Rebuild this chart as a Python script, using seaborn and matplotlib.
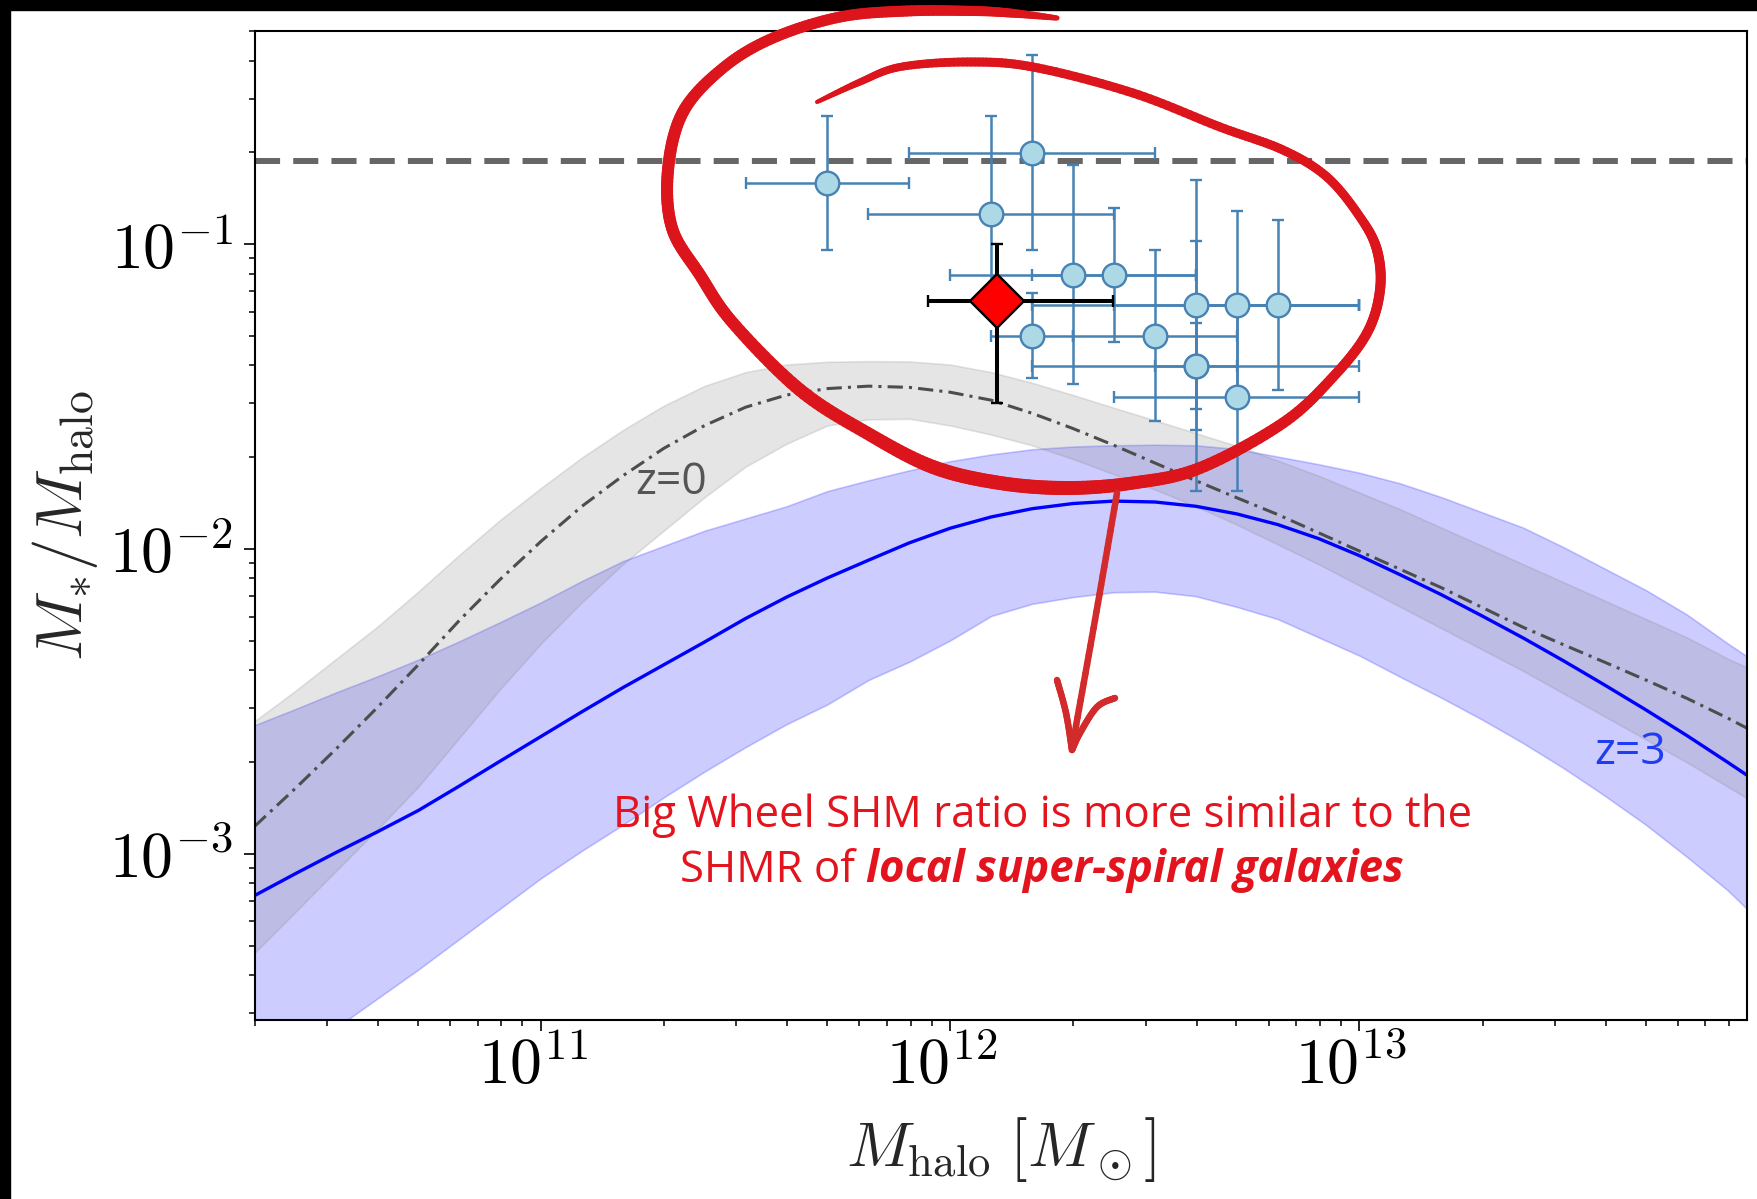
import numpy as np
import pandas as pd
import matplotlib
matplotlib.use("Agg")
import matplotlib.pyplot as plt
import matplotlib.transforms as mtransforms
from matplotlib.collections import LineCollection
from matplotlib.ticker import LogLocator, FuncFormatter, NullFormatter
import seaborn as sns

# ---------------------------------------------------------------------------
# Stellar-to-halo mass relation (log10 values) on a common halo-mass grid
# ---------------------------------------------------------------------------
log_mhalo = [10.30, 10.40, 10.50, 10.60, 10.70, 10.80, 10.90, 11.00, 11.10, 11.20,
             11.30, 11.40, 11.50, 11.60, 11.70, 11.80, 11.90, 12.00, 12.10, 12.20,
             12.30, 12.40, 12.50, 12.60, 12.70, 12.80, 12.90, 13.00, 13.10, 13.20,
             13.30, 13.40, 13.50, 13.60, 13.70, 13.80, 13.90, 13.95]

z0_median = [-2.91, -2.785, -2.655, -2.52, -2.38, -2.235, -2.10, -1.975, -1.86, -1.76,
             -1.67, -1.595, -1.535, -1.495, -1.474, -1.466, -1.470, -1.486, -1.512, -1.555,
             -1.605, -1.66, -1.718, -1.776, -1.832, -1.887, -1.947, -2.007, -2.067, -2.127,
             -2.192, -2.257, -2.315, -2.372, -2.43, -2.49, -2.555, -2.59]
z0_upper = [-2.565, -2.465, -2.36, -2.255, -2.14, -2.02, -1.905, -1.80, -1.70, -1.61,
            -1.53, -1.465, -1.42, -1.395, -1.386, -1.384, -1.385, -1.395, -1.42, -1.455,
            -1.495, -1.537, -1.578, -1.620, -1.662, -1.71, -1.76, -1.815, -1.87, -1.93,
            -1.99, -2.05, -2.11, -2.17, -2.23, -2.29, -2.36, -2.39]
z0_lower = [-3.325, -3.19, -3.055, -2.92, -2.78, -2.62, -2.46, -2.31, -2.175, -2.05,
            -1.94, -1.83, -1.73, -1.655, -1.595, -1.575, -1.573, -1.595, -1.625, -1.66,
            -1.705, -1.755, -1.805, -1.86, -1.92, -1.985, -2.05, -2.12, -2.19, -2.26,
            -2.33, -2.40, -2.475, -2.55, -2.625, -2.70, -2.78, -2.82]

z3_median = [-3.137, -3.065, -2.995, -2.928, -2.858, -2.778, -2.696, -2.615, -2.534, -2.455,
             -2.380, -2.305, -2.228, -2.158, -2.095, -2.037, -1.980, -1.932, -1.895, -1.868,
             -1.851, -1.843, -1.846, -1.860, -1.885, -1.920, -1.966, -2.022, -2.085, -2.150,
             -2.220, -2.292, -2.368, -2.447, -2.528, -2.612, -2.700, -2.745]
z3_upper = [-2.578, -2.525, -2.47, -2.418, -2.363, -2.303, -2.24, -2.175, -2.105, -2.04,
            -1.99, -1.94, -1.90, -1.86, -1.81, -1.775, -1.742, -1.712, -1.69, -1.673,
            -1.664, -1.660, -1.658, -1.66, -1.672, -1.697, -1.722, -1.75, -1.785, -1.83,
            -1.88, -1.93, -1.995, -2.065, -2.135, -2.215, -2.31, -2.355]
z3_lower = [-3.76, -3.665, -3.57, -3.475, -3.38, -3.28, -3.18, -3.08, -2.99, -2.905,
            -2.815, -2.73, -2.65, -2.575, -2.51, -2.43, -2.37, -2.30, -2.22, -2.18,
            -2.158, -2.142, -2.14, -2.155, -2.19, -2.23, -2.29, -2.35, -2.42, -2.488,
            -2.56, -2.637, -2.72, -2.81, -2.905, -3.01, -3.12, -3.185]

# Local super-spiral galaxies (log10 values, symmetric errors in dex)
spiral_log_mhalo = [12.6, 11.7, 12.2, 12.1, 12.3, 12.4, 12.2, 12.5, 12.6, 12.7, 12.8, 12.6, 12.7]
spiral_log_ratio = [-1.40, -0.80, -0.70, -0.90, -1.10, -1.10, -1.30, -1.30, -1.20, -1.20, -1.20, -1.40, -1.50]
spiral_mhalo_err = [0.10, 0.20, 0.30, 0.30, 0.30, 0.20, 0.10, 0.20, 0.40, 0.30, 0.20, 0.40, 0.30]
spiral_ratio_err = [0.14, 0.22, 0.32, 0.32, 0.36, 0.22, 0.14, 0.28, 0.41, 0.31, 0.28, 0.41, 0.31]

# Big Wheel
bigwheel_mhalo = 1.3e12
bigwheel_mhalo_err_lo = 0.42e12
bigwheel_mhalo_err_hi = 1.2e12
bigwheel_ratio = 0.065
bigwheel_ratio_err = 0.035

# Cosmic baryon fraction
baryon_fraction = 0.188

# ---------------------------------------------------------------------------
sns.set_theme(style="ticks")
plt.rcParams.update({
    "mathtext.fontset": "cm",
    "axes.linewidth": 1.5,
    "axes.edgecolor": "black",
    "xtick.color": "black",
    "ytick.color": "black",
    "axes.facecolor": "white",
    "figure.facecolor": "white",
})
plt.rcParams["font.family"] = ["DejaVu Sans"]

W, H = 1758, 1199
fig = plt.figure(figsize=(W / 100, H / 100), dpi=100)
ax = fig.add_axes([255 / W, 1 - 1020 / H, (1747 - 255) / W, (1020 - 31) / H])
ax.set_xscale("log")
ax.set_yscale("log")

curves = pd.DataFrame({
    "mhalo": np.power(10.0, log_mhalo),
    "z0": np.power(10.0, z0_median),
    "z0_hi": np.power(10.0, z0_upper),
    "z0_lo": np.power(10.0, z0_lower),
    "z3": np.power(10.0, z3_median),
    "z3_hi": np.power(10.0, z3_upper),
    "z3_lo": np.power(10.0, z3_lower),
})

# scatter bands
ax.fill_between(curves["mhalo"], curves["z3_lo"], curves["z3_hi"],
                color="blue", alpha=0.2, lw=1.2, zorder=1)
ax.fill_between(curves["mhalo"], curves["z0_lo"], curves["z0_hi"],
                color="gray", alpha=0.2, lw=1.2, zorder=1.1)

# median relations
sns.lineplot(data=curves, x="mhalo", y="z0", ax=ax, color="#4d4d4d",
             lw=2.2, linestyle=(0, (5, 2, 1, 2)), zorder=2)
sns.lineplot(data=curves, x="mhalo", y="z3", ax=ax, color="blue", lw=2.4, zorder=2)

# baryon fraction
ax.axhline(baryon_fraction, color="#666666", lw=4.3, linestyle=(0, (4.2, 2.2)), zorder=2)

# super-spirals
lm = np.array(spiral_log_mhalo)
lr = np.array(spiral_log_ratio)
em = np.array(spiral_mhalo_err)
er = np.array(spiral_ratio_err)
sx = 10 ** lm
sy = 10 ** lr
xerr = [sx - 10 ** (lm - em), 10 ** (lm + em) - sx]
yerr = [sy - 10 ** (lr - er), 10 ** (lr + er) - sy]
ax.errorbar(sx, sy, xerr=xerr, yerr=yerr, fmt="o", color="steelblue",
            mfc="lightblue", mec="steelblue", ms=17, mew=1.7,
            elinewidth=1.8, capsize=4.5, capthick=1.9, zorder=3)

# Big Wheel
ax.errorbar([bigwheel_mhalo], [bigwheel_ratio],
            xerr=[[bigwheel_mhalo_err_lo], [bigwheel_mhalo_err_hi]],
            yerr=[[bigwheel_ratio_err], [bigwheel_ratio_err]],
            fmt="D", color="black", mfc="red", mec="black", ms=27, mew=1.7,
            elinewidth=2.9, capsize=4.3, capthick=2.9, zorder=4)

# curve labels
label_font = ["Open Sans", "DejaVu Sans"]
ax.text(10 ** 11.317, 10 ** -1.782, "z=0", color="#555555", fontsize=32,
        family=label_font, ha="center", va="center", zorder=5)
ax.text(10 ** 13.662, 10 ** -2.670, "z=3", color="#1f3cf2", fontsize=32,
        family=label_font, ha="center", va="center", zorder=5)

# axes
ax.set_xlim(2e10, 8.85e13)
ax.set_ylim(2.85e-4, 0.5)
ax.xaxis.set_major_locator(LogLocator(base=10, numticks=20))
ax.yaxis.set_major_locator(LogLocator(base=10, numticks=20))
ax.xaxis.set_minor_locator(LogLocator(base=10, subs=np.arange(2, 10), numticks=50))
ax.yaxis.set_minor_locator(LogLocator(base=10, subs=np.arange(2, 10), numticks=50))
pow_fmt = FuncFormatter(lambda v, p: r"$10^{%d}$" % int(round(np.log10(v))))
ax.xaxis.set_major_formatter(pow_fmt)
ax.yaxis.set_major_formatter(pow_fmt)
ax.xaxis.set_minor_formatter(NullFormatter())
ax.yaxis.set_minor_formatter(NullFormatter())
ax.tick_params(which="major", direction="out", length=8, width=1.2, labelsize=46,
               top=False, right=False)
ax.tick_params(axis="x", which="major", pad=3)
ax.tick_params(axis="y", which="major", pad=8)
ax.tick_params(which="minor", direction="out", length=4.3, width=1.1, top=False, right=False)
for s in ax.spines.values():
    s.set_visible(True)
    s.set_linewidth(1.5)
    s.set_color("black")

# nudge the x tick labels slightly to the left
shift = mtransforms.ScaledTranslation(-6 / 72, 0, fig.dpi_scale_trans)
for lab in ax.get_xticklabels():
    lab.set_transform(lab.get_transform() + shift)

ax.set_xlabel(r"$M_{\rm halo}\;[M_\odot]$", fontsize=46)
ax.set_ylabel(r"$M_{*}/M_{\rm halo}$", fontsize=47)
ax.xaxis.set_label_coords(0.5, -0.096)
ax.yaxis.set_label_coords(-0.104, 0.5)


# ---------------------------------------------------------------------------
# Hand-drawn red annotation (figure pixel coordinates, origin top-left)
# ---------------------------------------------------------------------------
def fx(X):
    return X / W


def fy(Y):
    return 1 - Y / H


def catmull_rom(pts, n=16):
    P = np.asarray(pts, float)
    P = np.vstack([P[0], P, P[-1]])
    out = []
    t = np.linspace(0, 1, n, endpoint=False)[:, None]
    for i in range(1, len(P) - 2):
        p0, p1, p2, p3 = P[i - 1], P[i], P[i + 1], P[i + 2]
        out.append(0.5 * (2 * p1 + (-p0 + p2) * t + (2 * p0 - 5 * p1 + 4 * p2 - p3) * t ** 2
                          + (-p0 + 3 * p1 - 3 * p2 + p3) * t ** 3))
    out.append(P[-2][None])
    return np.vstack(out)


def brush(pts, widths_px, color, zorder=20, n=16):
    path = catmull_rom(pts, n)
    w = np.interp(np.linspace(0, len(pts) - 1, len(path)), np.arange(len(pts)), widths_px)
    xy = np.column_stack([fx(path[:, 0]), fy(path[:, 1])])
    segs = np.stack([xy[:-1], xy[1:]], axis=1)
    lc = LineCollection(segs, linewidths=0.5 * (w[:-1] + w[1:]) * 72 / 100, colors=color,
                        capstyle="round", joinstyle="round", transform=fig.transFigure,
                        zorder=zorder)
    fig.add_artist(lc)


red = "#dc151c"
spiral_pts = [(1057, 18), (1010, 13), (973, 11), (907, 11), (840, 17), (773, 38), (723, 68),
              (683, 112), (668, 170), (672, 228), (700, 275), (733, 323), (800, 390),
              (867, 433), (933, 467), (1000, 483), (1067, 488), (1133, 483), (1200, 468),
              (1283, 423), (1333, 377), (1367, 333), (1380, 290), (1377, 250), (1360, 217),
              (1327, 177), (1283, 150), (1220, 127), (1133, 93), (1033, 67), (967, 62),
              (900, 67), (860, 82), (817, 102)]
spiral_w = [5, 9, 10, 11, 11, 11, 11, 12, 12, 12, 12, 12, 13, 13, 14, 14, 14, 13, 12,
            11, 10, 10, 10, 10, 9, 9, 9, 9, 9, 9, 9, 8, 7, 4]
brush(spiral_pts, spiral_w, red)

arrow_red = "#d32a2b"
brush([(1117, 493), (1095, 620), (1072, 748)], [6.5, 6.5, 6.5], arrow_red)
brush([(1057, 680), (1066, 713), (1072, 750)], [6.5, 6.5, 6.5], arrow_red)
brush([(1072, 750), (1080, 733), (1097, 707), (1115, 698)], [6.5, 6.5, 6.5, 6.5], arrow_red)

note_font = ["Open Sans", "DejaVu Sans"]
note_size = 31.5
note_kw = dict(color="#e3141d", fontsize=note_size, family=note_font, va="baseline", zorder=21)
fig.text(fx(1043), fy(826.7), "Big Wheel SHM ratio is more similar to the", ha="center", **note_kw)
part_a = fig.text(0, fy(881.7), "SHMR of", ha="left", **note_kw)
part_b = fig.text(0, fy(881.7), "local super-spiral galaxies", ha="left",
                  fontweight="bold", fontstyle="italic", **note_kw)
renderer = fig.canvas.get_renderer()
wa = part_a.get_window_extent(renderer).width
wb = part_b.get_window_extent(renderer).width
space = 0.26 * note_size * 100 / 72
left = 1042 - (wa + space + wb) / 2
part_a.set_x(fx(left))
part_b.set_x(fx(left + wa + space))

# black frame strips along the top and left edges
fig.add_artist(plt.Rectangle((0, 1 - 10 / H), 1, 10 / H, transform=fig.transFigure,
                             color="black", zorder=15))
fig.add_artist(plt.Rectangle((0, 0), 10 / W, 1, transform=fig.transFigure,
                             color="black", zorder=15))

fig.savefig("out.png", dpi=100)
